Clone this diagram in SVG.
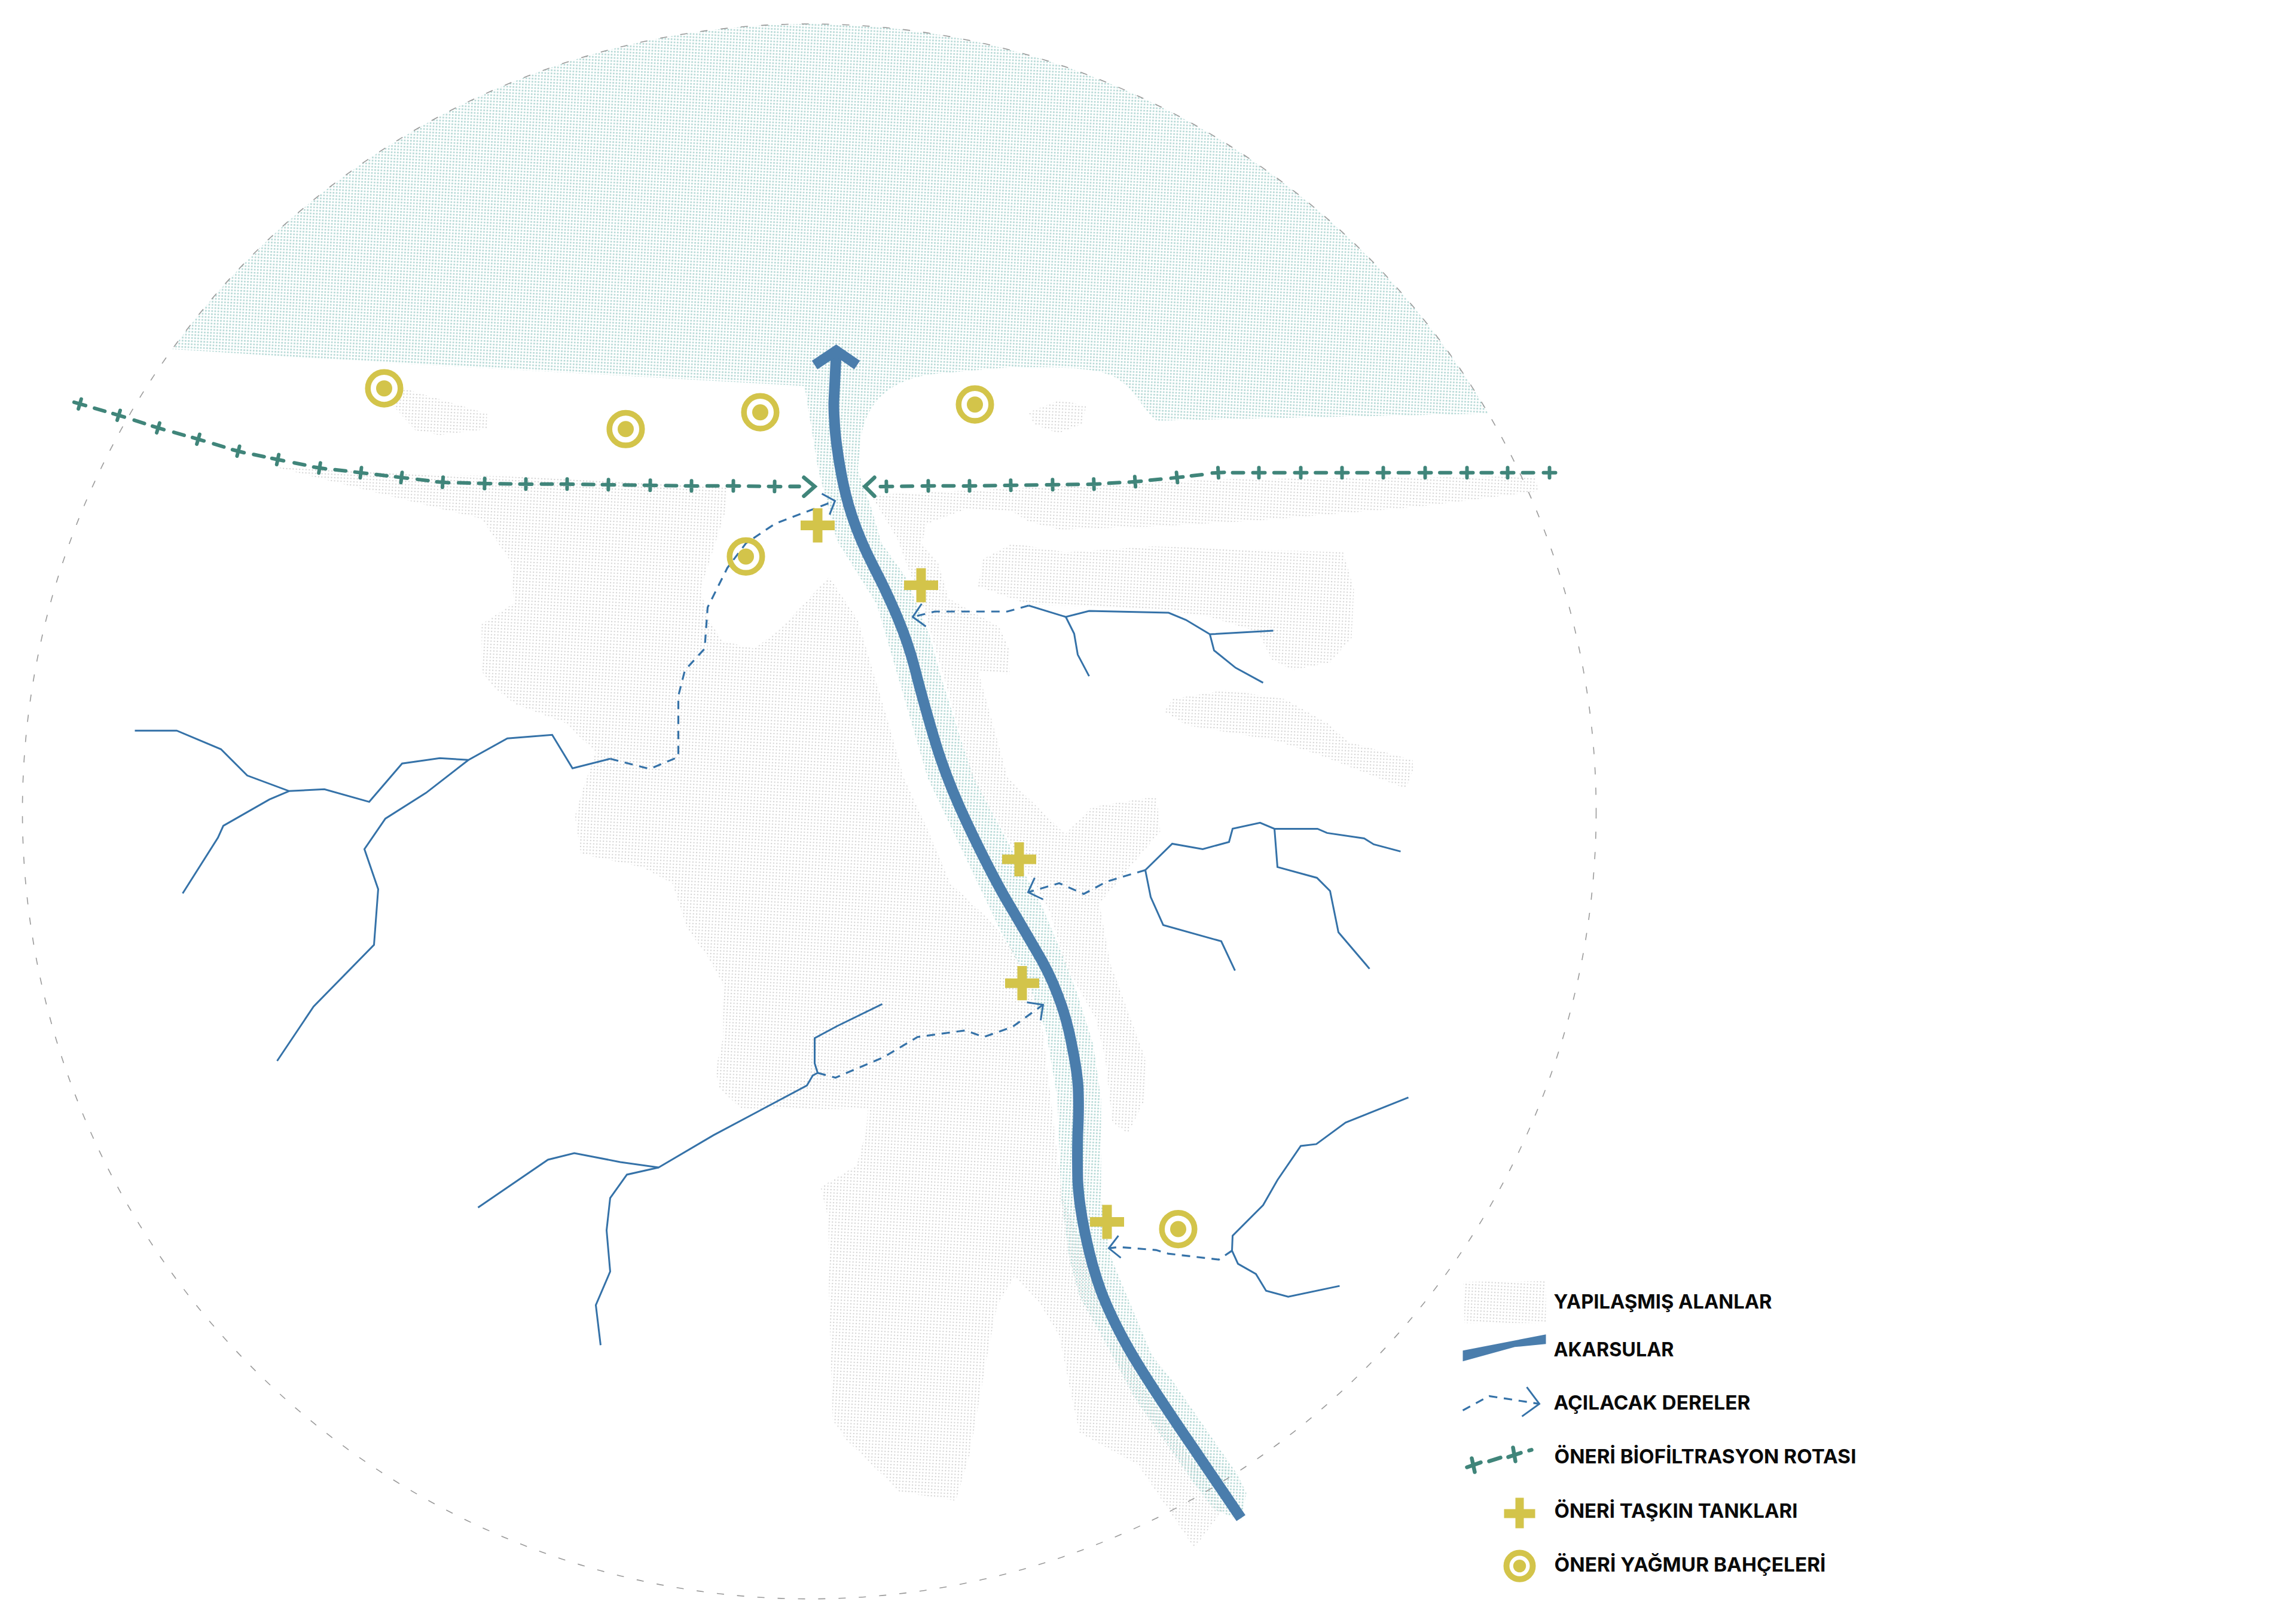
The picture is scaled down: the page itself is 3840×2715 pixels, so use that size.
<svg xmlns="http://www.w3.org/2000/svg" width="3840" height="2715" viewBox="0 0 3840 2715">
<style>
.stream{fill:none;stroke:#3572a8;stroke-width:3;stroke-linejoin:miter}
.open{fill:none;stroke:#3572a8;stroke-width:3.2;stroke-dasharray:14 11}
.head{fill:none;stroke:#3572a8;stroke-width:3}
.route{fill:none;stroke:#40857a;stroke-width:6;stroke-linecap:round;stroke-dasharray:18 51.3;stroke-dashoffset:-25.6;marker-start:url(#pl);marker-mid:url(#pl);marker-end:url(#pl)}
.chev{fill:none;stroke:#40857a;stroke-width:6.5;stroke-linecap:round}
.tank{fill:#d3c44a}
.ring{fill:none;stroke:#d3c44a}
.dot{fill:#d3c44a}
.lab{font-family:"Inter","Liberation Sans",sans-serif;font-weight:700;font-size:33px;fill:#0a0a0a}
</style>
<defs>
<pattern id="g" width="5.4" height="5.4" patternUnits="userSpaceOnUse" patternTransform="rotate(3)"><rect width="2" height="2" fill="#d0d0d0"/></pattern>
<pattern id="t" width="5.2" height="5.2" patternUnits="userSpaceOnUse" patternTransform="rotate(3)"><rect width="2.8" height="2.8" fill="#b8dad7"/></pattern>
<clipPath id="cc"><circle cx="1353" cy="1356" r="1316"/></clipPath>
<marker id="pl" markerUnits="userSpaceOnUse" markerWidth="40" markerHeight="40" refX="20" refY="20" orient="auto"><path d="M10,20H30M20,11.5V28.5" fill="none" stroke="#40857a" stroke-width="6" stroke-linecap="round"/></marker>
<path id="plus" d="M-8,-28.5H8V-8H28.5V8H8V28.5H-8V8H-28.5V-8H-8Z"/>
<g id="target"><circle class="ring" r="27.3" stroke-width="9.5"/><circle class="dot" r="13.5"/></g>
</defs>
<g id="map" transform="matrix(1 0 0 1.001 0.5 0)">
<g id="built-up">
<path fill="url(#g)" d="M462,781L743,793 993,801 1216,815 1212,857 1171,985 1185,1036 1207,1071 1261,1084 1305,1051 1386,964 1434,1036 1487,1214 1511,1300 1549,1382 1589,1476 1658,1541 1692,1586 1740,1680 1744,1729 1761,1871 1776,2000 1900,2300 2046,2522 1997,2587 1903,2448 1805,2394 1794,2344 1771,2232 1736,2174 1696,2133 1667,2182 1650,2269 1621,2431 1598,2508 1504,2493 1415,2406 1392,2373 1386,2166 1385,2037 1372,1984 1432,1948 1448,1890 1451,1854 1238,1852 1203,1819 1196,1788 1209,1734 1209,1645 1184,1600 1149,1552 1124,1476 1073,1449 971,1427 961,1364 977,1311 996,1257 945,1208 862,1177 827,1150 805,1122 805,1043 859,1008 854,939 805,867 743,852Z"/>
<path fill="url(#g)" d="M671,648L814,691 814,717 734,727 694,719 658,679Z"/>
<path fill="url(#g)" d="M1720,689L1773,668 1816,679 1809,709 1769,724 1729,709Z"/>
<path fill="url(#g)" d="M1456,827L2032,801 2568,796 2572,821 2371,847 2104,870 1925,880 1773,885 1720,872 1693,855 1612,852 1550,875 1541,908 1568,939 1586,1000 1671,1048 1688,1087 1688,1127 1635,1120 1685,1300 1781,1394 1825,1349 1934,1331 1940,1389 1838,1510 1857,1612 1915,1769 1915,1836 1886,1894 1860,1876 1848,1769 1832,1702 1781,1612 1755,1523 1626,1300 1577,1127 1545,1020 1500,900Z"/>
<path fill="url(#g)" d="M1635,980L1644,934 1693,908 1782,923 1925,913 2246,923 2264,985 2260,1066 2224,1107 2162,1120 2126,1102 2104,1056 2023,1031 1952,1020 1720,1010Z"/>
<path fill="url(#g)" d="M1947,1189L1961,1168 2050,1153 2148,1168 2220,1209 2255,1240 2362,1270 2363,1286 2351,1318 2204,1261 2130,1237 1984,1212Z"/>
</g>

<g id="water-zone" clip-path="url(#cc)">
<path fill="url(#t)" d="M0,0H2700V691H2492L1935,703C1915,690 1900,655 1872,635C1840,612 1760,612 1675,615L1560,625C1480,635 1447,680 1440,730L1434,786 1456,847 1474,908 1514,964 1554,1061 1572,1127 1608,1240 1628,1300 1742,1514 1774,1590 1800,1657 1828,1746 1841,1836 1841,2000 1857,2100 1874,2141 1926,2265 1960,2307 2069,2464 2084,2495 2075,2541 2029,2522 1989,2468 1897,2336 1851,2249 1805,2166 1788,2104 1774,2000 1768,1836 1749,1724 1717,1635 1672,1554 1551,1300 1466,1010 1399,903 1368,785 1345,645 993,625 654,607 296,584 0,570Z"/>
</g>
<path id="water-zone-tail" fill="url(#t)" d="M2000,2410L2069,2464 2084,2495 2075,2541 2029,2522 1989,2468Z"/>

<circle id="study-area" cx="1353" cy="1356" r="1316" fill="none" stroke="#9a9a9a" stroke-width="1.6" stroke-dasharray="12 22"/>

<g id="connectors">
<g id="streams">
<polyline class="stream" points="225,1221 295,1221 369,1252 413,1296 483,1322 542,1319 617,1340 672,1276 735,1267 783,1270 848,1234 923,1228 957,1284 1020,1268"/>
<polyline class="stream" points="483,1322 450,1336 373,1380 364,1400 305,1493"/>
<polyline class="stream" points="783,1270 712,1325 644,1368 609,1419 632,1486 625,1579 524,1682 463,1773"/>
<polyline class="stream" points="1720,1012 1782,1031 1821,1021 1954,1024 1983,1036 2023,1060 2129,1054"/>
<polyline class="stream" points="1782,1031 1796,1059 1802,1094 1821,1130"/>
<polyline class="stream" points="2023,1060 2030,1087 2066,1116 2112,1141"/>
<polyline class="stream" points="1915,1454 1960,1410 2011,1419 2055,1407 2061,1385 2107,1375 2131,1385 2203,1385 2219,1392 2281,1401 2297,1411 2342,1423"/>
<polyline class="stream" points="1915,1454 1924,1499 1945,1546 2042,1573 2065,1622"/>
<polyline class="stream" points="2131,1385 2136,1449 2202,1467 2224,1489 2238,1558 2290,1619"/>
<polyline class="stream" points="1475,1678 1399,1715 1362,1735 1362,1777 1367,1793 1359,1797 1349,1814 1193,1897 1101,1951 1037,1942 960,1927 916,1938 799,2018"/>
<polyline class="stream" points="1101,1951 1048,1963 1020,2002 1014,2056 1020,2125 996,2181 1004,2248"/>
<polyline class="stream" points="2355,1834 2250,1876 2201,1912 2175,1915 2136,1972 2112,2014 2061,2065 2060,2090 2070,2112 2100,2129 2117,2157 2154,2167 2240,2149"/>
</g>
<g id="opened-streams">
<polyline class="open" points="1020,1268 1086,1285 1134,1265 1134,1163 1145,1120 1178,1084 1183,1015 1216,949 1247,908 1296,875 1396,837"/>
<polyline class="head" points="1374,825 1396,837 1387,860"/>
<polyline class="open" points="1720,1012 1684,1022 1563,1022 1526,1031"/>
<polyline class="head" points="1541,1009 1526,1031 1548,1047"/>
<polyline class="open" points="1915,1454 1851,1473 1812,1494 1771,1476 1719,1491"/>
<polyline class="head" points="1730,1467 1719,1491 1744,1503"/>
<polyline class="open" points="1367,1793 1397,1801 1413,1794 1477,1767 1534,1733 1614,1722 1645,1733 1693,1716 1744,1679"/>
<polyline class="head" points="1717,1675 1744,1679 1740,1705"/>
<polyline class="open" points="2060,2090 2038,2105 1953,2095 1933,2089 1871,2084 1854,2086"/>
<polyline class="head" points="1870,2065 1854,2086 1874,2102"/>
</g>
<path id="river" fill="none" stroke="#4a7dac" stroke-width="18" d="M1398,592L1394,673Q1394,690 1395,701Q1396,730 1404,778Q1412,826 1425,864Q1438,903 1460,946Q1483,990 1501,1033Q1519,1076 1530,1119Q1541,1163 1561,1231Q1581,1300 1617,1376Q1653,1452 1681,1501Q1710,1550 1732,1588Q1755,1626 1769,1664Q1784,1702 1793,1751Q1803,1800 1803,1828Q1804,1857 1802,1895Q1801,1933 1802,1973Q1804,2013 1815,2065Q1826,2117 1841,2158Q1857,2200 1885,2250Q1913,2300 1994,2418L2075,2537"/>
<polyline id="river-head" fill="none" stroke="#4a7dac" stroke-width="17" points="1362,610 1398,586 1433,610"/>
<g id="biofiltration-west">
<polyline class="route" points="133,675 198,694 264,715 331,734 398,754 464,768 534,782 603,790 671,798 740,806 810,808 879,809 948,809 1017,810 1087,811 1156,812 1226,812 1295,813"/>
<path class="chev" d="M1321,813H1336"/>
<polyline class="chev" points="1344,798 1362,813 1344,829"/>
</g>
<g id="biofiltration-east">
<polyline class="route" points="1482,813 1552,812 1621,812 1690,811 1760,810 1829,809 1898,805 1968,798 2037,790 2105,790 2175,790 2244,790 2313,790 2383,790 2453,790 2521,790 2591,790"/>
<polyline class="chev" points="1462,798 1446,813 1462,829"/>
</g>
</g>

<g id="flood-tanks">
<use id="tank-1" class="tank" href="#plus" x="1367" y="878"/>
<use id="tank-2" class="tank" href="#plus" x="1540" y="978"/>
<use id="tank-3" class="tank" href="#plus" x="1704" y="1436"/>
<use id="tank-4" class="tank" href="#plus" x="1709" y="1643"/>
<use id="tank-5" class="tank" href="#plus" x="1851" y="2042"/>
</g>
<g id="rain-gardens">
<use id="garden-1" href="#target" x="642" y="649"/>
<use id="garden-2" href="#target" x="1046" y="717"/>
<use id="garden-3" href="#target" x="1271" y="689"/>
<use id="garden-4" href="#target" x="1247" y="930"/>
<use id="garden-5" href="#target" x="1630" y="676"/>
<use id="garden-6" href="#target" x="1970" y="2054"/>
</g>

<g id="legend">
<g id="legend-built"><path fill="url(#g)" d="M2447,2142L2585,2141 2585,2211 2449,2211Z"/><text class="lab" x="2598" y="2187" textLength="365" lengthAdjust="spacingAndGlyphs">YAPILAŞMIŞ ALANLAR</text></g>
<g id="legend-river"><path fill="#4a7dac" d="M2446,2257L2585,2230 2585,2246 2533,2251 2446,2275Z"/><text class="lab" x="2598" y="2267" textLength="201" lengthAdjust="spacingAndGlyphs">AKARSULAR</text></g>
<g id="legend-open"><polyline class="open" points="2446,2357 2490,2333 2574,2346"/><polyline class="head" points="2553,2318 2574,2346 2545,2367"/><text class="lab" x="2598" y="2356" textLength="329" lengthAdjust="spacingAndGlyphs">AÇILACAK DERELER</text></g>
<g id="legend-route"><path fill="none" stroke="#40857a" stroke-width="6.5" stroke-linecap="round" d="M2453,2452L2476,2444M2461,2437L2466,2460M2490,2442L2509,2436M2522,2435L2543,2428M2530,2419L2534,2442M2557,2424L2561,2423"/><text class="lab" x="2599" y="2446" textLength="505" lengthAdjust="spacingAndGlyphs">ÖNERİ BİOFİLTRASYON ROTASI</text></g>
<g id="legend-tank"><path class="tank" d="M2534,2503H2548V2522H2567V2537H2548V2554H2534V2537H2515V2522H2534Z"/><text class="lab" x="2599" y="2536" textLength="407" lengthAdjust="spacingAndGlyphs">ÖNERİ TAŞKIN TANKLARI</text></g>
<g id="legend-garden"><circle class="ring" cx="2541" cy="2617" r="22" stroke-width="10"/><circle class="dot" cx="2541" cy="2617" r="10.7"/><text class="lab" x="2599" y="2626" textLength="454" lengthAdjust="spacingAndGlyphs">ÖNERİ YAĞMUR BAHÇELERİ</text></g>
</g>
</g>
</svg>
